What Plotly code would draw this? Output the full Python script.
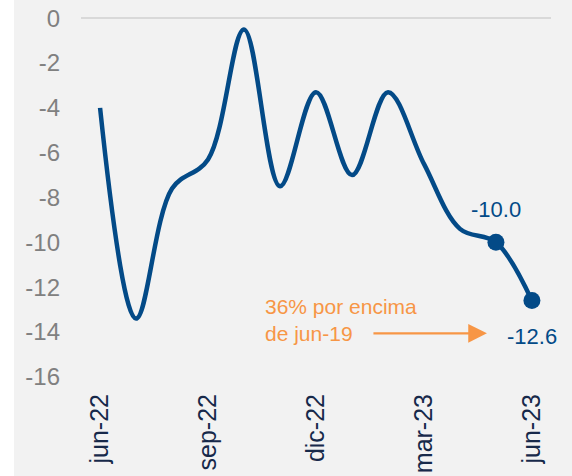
import plotly.graph_objects as go

months = ["jun-22", "jul-22", "ago-22", "sep-22", "oct-22", "nov-22", "dic-22",
          "ene-23", "feb-23", "mar-23", "abr-23", "may-23", "jun-23"]
values = [-4.0, -13.4, -7.6, -6.3, -0.5, -7.5, -3.3, -7.0, -3.3, -6.5, -9.4, -10.0, -12.6]
tick_labels = ["jun-22", "sep-22", "dic-22", "mar-23", "jun-23"]
y_ticks = [0, -2, -4, -6, -8, -10, -12, -14, -16]
y_tick_text = ["0", "-2", "-4", "-6", "-8", "-10", "-12", "-14", "-16"]
marked_idx = [11, 12]
note_text = "36% por encima<br>de jun-19"

BLUE = "#034a87"
ORANGE = "#f79646"
FONT = "Liberation Sans, Arial, sans-serif"

fig = go.Figure()
fig.add_trace(go.Scatter(
    x=months, y=values, mode="lines",
    line=dict(color=BLUE, width=4.5, shape="spline", smoothing=1.0),
    hoverinfo="skip", showlegend=False,
))
fig.add_trace(go.Scatter(
    x=[months[i] for i in marked_idx], y=[values[i] for i in marked_idx],
    mode="markers", marker=dict(color=BLUE, size=17),
    hoverinfo="skip", showlegend=False,
))

# value labels
fig.add_annotation(x=months[11], y=values[11], text=f"{values[11]:.1f}", showarrow=False,
                   yshift=33, font=dict(size=22, color=BLUE, family=FONT))
fig.add_annotation(x=months[12], y=values[12], text=f"{values[12]:.1f}", showarrow=False,
                   yshift=-36, font=dict(size=22, color=BLUE, family=FONT))

# note text
fig.add_annotation(x=4.53, y=-13.46, xref="x", yref="y", text=note_text, showarrow=False,
                   xanchor="left", yanchor="middle", align="left",
                   font=dict(size=21, color=ORANGE, family=FONT))
# arrow
fig.add_annotation(x=10.75, y=-14.06, xref="x", yref="y", ax=-115, ay=0, text="",
                   showarrow=True, arrowhead=2, arrowsize=1.7, arrowwidth=2.2,
                   arrowcolor=ORANGE)

# white strip at the left edge
fig.add_shape(type="rect", xref="paper", yref="paper",
              x0=-81/470, x1=-67/470, y0=-1, y1=2,
              fillcolor="white", line=dict(width=0), layer="below")

fig.update_layout(
    width=572, height=476,
    margin=dict(l=81, r=21, t=16, b=88, autoexpand=False),
    paper_bgcolor="#f2f2f2", plot_bgcolor="#f2f2f2",
    font=dict(family=FONT),
    xaxis=dict(
        type="category", range=[-0.53, 12.53], automargin=False,
        tickmode="array", tickvals=tick_labels, ticktext=tick_labels,
        tickangle=-90, showgrid=False, zeroline=False, showline=False,
        tickfont=dict(size=25, color="#17294a", family=FONT),
    ),
    yaxis=dict(
        range=[-16.5, 0.1], tickmode="array", tickvals=y_ticks, ticktext=y_tick_text,
        automargin=False,
        showgrid=False, zeroline=True, zerolinecolor="#d9d9d9", zerolinewidth=1.5,
        showline=False, ticklabelstandoff=20,
        tickfont=dict(size=24, color="#808080", family=FONT),
    ),
)

fig.write_html("out.html", config={"displayModeBar": False},
               post_script="document.body.style.margin='0';document.body.style.overflow='hidden';")
